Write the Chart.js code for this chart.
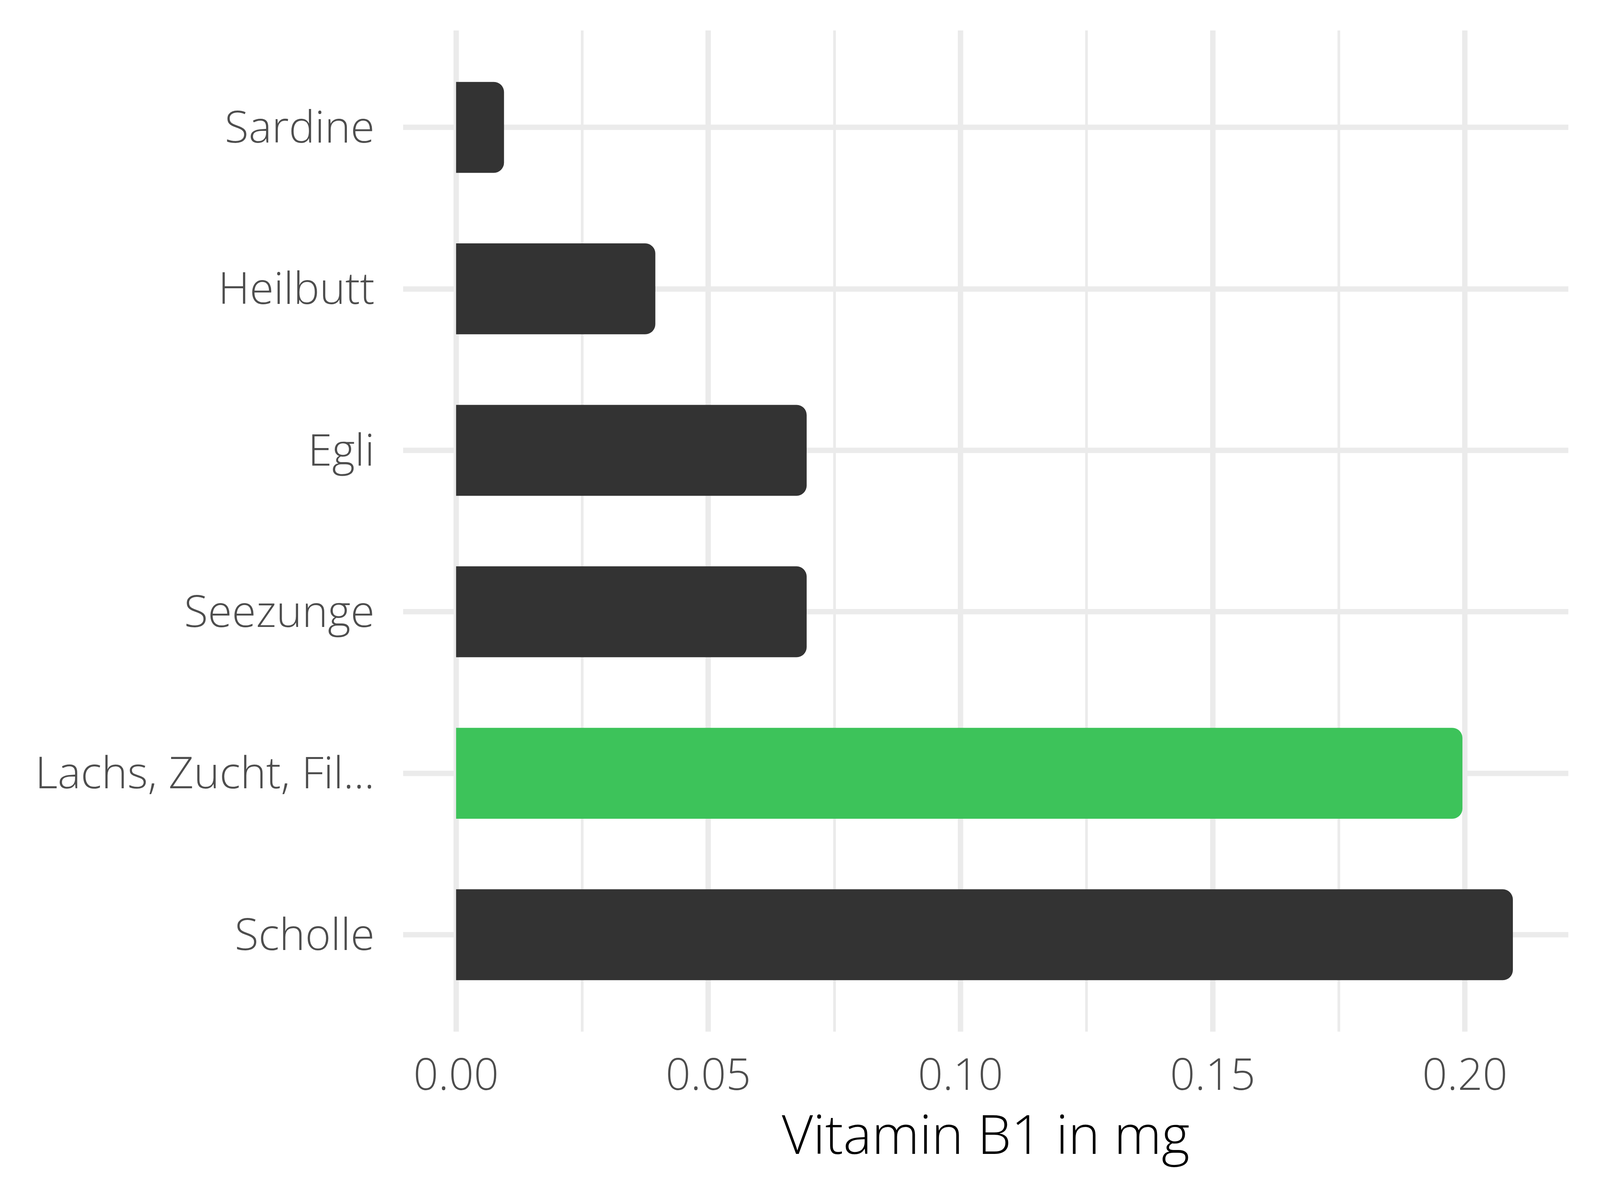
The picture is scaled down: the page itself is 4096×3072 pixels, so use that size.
<!DOCTYPE html>
<html>
<head>
<meta charset="utf-8">
<script src="https://cdn.jsdelivr.net/npm/chart.js@4"></script>
<style>
  html, body { margin: 0; padding: 0; background: #fff; }
  #wrap { width: 4096px; height: 3072px; }
</style>
</head>
<body>
<div id="wrap"><canvas id="vitChart"></canvas></div>
<script>
const foods = ["Sardine", "Heilbutt", "Egli", "Seezunge", "Lachs, Zucht, Fil...", "Scholle"];
const vitaminB1 = [0.0095, 0.0395, 0.0695, 0.0695, 0.1995, 0.2095];
const highlighted = "Lachs, Zucht, Fil...";
const majorTicks = [0, 0.05, 0.10, 0.15, 0.20];
const minorTicks = [0.025, 0.075, 0.125, 0.175];

const gridColor = "#ebebeb";
const fontFamily = "'Open Sans', 'Noto Sans', sans-serif";

const ctx = document.getElementById("vitChart");

const vitChart = new Chart(ctx, {
  type: "bar",
  data: {
    datasets: [{
      data: vitaminB1.map((v, i) => ({ x: v, y: i })),
      backgroundColor: foods.map(f => f === highlighted ? "#3dc35a" : "#333333"),
      // tiny non-zero base so Chart.js doesn't pull the bar off the zero grid line
      base: -1e-9,
      borderRadius: 26,
      categoryPercentage: 1,
      barPercentage: 0.563
    }]
  },
  options: {
    indexAxis: "y",
    responsive: true,
    maintainAspectRatio: false,
    devicePixelRatio: 1,
    animation: false,
    layout: { padding: { top: 78, right: 81, left: 0, bottom: 0 } },
    plugins: {
      legend: { display: false },
      tooltip: { enabled: false }
    },
    scales: {
      x: {
        type: "linear",
        min: -0.0105,
        max: 0.2205,
        afterBuildTicks: (scale) => {
          scale.ticks = majorTicks.concat(minorTicks)
            .sort((a, b) => a - b)
            .map(v => ({ value: v }));
        },
        afterFit: (scale) => {
          scale.height = 431;
          scale.paddingLeft = 0;
          scale.paddingRight = 0;
        },
        border: { display: false },
        grid: {
          color: gridColor,
          drawTicks: false,
          lineWidth: (c) => majorTicks.includes(c.tick.value) ? 13.8 : 6.9
        },
        ticks: {
          autoSkip: false,
          maxRotation: 0,
          padding: 50,
          color: "#4d4d4d",
          font: { family: fontFamily, size: 112, weight: 300 },
          callback: (v) => majorTicks.includes(v) ? v.toFixed(2) : ""
        },
        title: {
          display: true,
          text: "Vitamin B1 in mg",
          color: "#000000",
          font: { family: fontFamily, size: 138, weight: 300 },
          padding: { top: 0, bottom: 75 }
        }
      },
      y: {
        type: "linear",
        reverse: true,
        offset: false,
        min: -0.6,
        max: 5.6,
        afterBuildTicks: (scale) => {
          scale.ticks = foods.map((f, i) => ({ value: i }));
        },
        afterFit: (scale) => {
          scale.width = 1032;
          scale.paddingTop = 0;
          scale.paddingBottom = 0;
        },
        border: { display: false },
        grid: {
          offset: false,
          color: gridColor,
          drawTicks: false,
          lineWidth: 13.8
        },
        ticks: {
          autoSkip: false,
          padding: 73,
          labelOffset: 7,
          color: "#4d4d4d",
          font: { family: fontFamily, size: 112, weight: 300 },
          callback: (v) => foods[v]
        }
      }
    }
  }
});
</script>
</body>
</html>
